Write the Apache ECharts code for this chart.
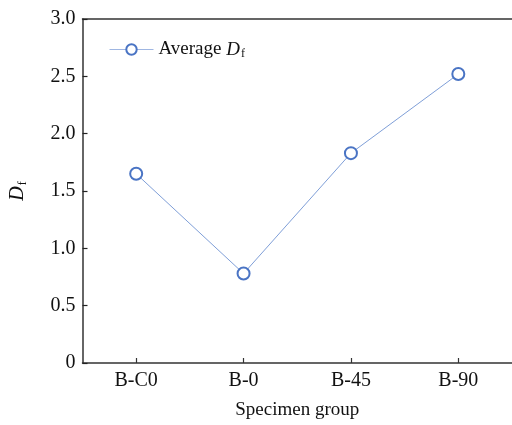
<!DOCTYPE html>
<html><head><meta charset="utf-8">
<script src="https://cdn.jsdelivr.net/npm/echarts@6/dist/echarts.min.js"></script>
<style>html,body{margin:0;padding:0;background:#fff}#c{width:512px;height:425px}</style>
</head><body><div id="c"></div>
<script>
const categories = ['B-C0', 'B-0', 'B-45', 'B-90'];
const averageDf = [1.65, 0.78, 1.83, 2.52];
const yTicks = [0, 0.5, 1.0, 1.5, 2.0, 2.5, 3.0];

const FONT = '"Liberation Serif", "Times New Roman", serif';
const chart = echarts.init(document.getElementById('c'));
chart.setOption({
  backgroundColor: '#fff',
  animation: false,
  grid: { left: 82, top: 19, width: 438, height: 347, show: false },
  legend: {
    left: 104, top: 35, itemWidth: 44, itemHeight: 13, itemGap: 9,
    data: ['Average Df'],
    lineStyle: { width: 1, color: '#9fb6e2' },
    formatter: () => 'Average {i|D}{s|f}',
    textStyle: {
      fontFamily: FONT, fontSize: 19, color: '#111',
      rich: {
        i: { fontFamily: FONT, fontSize: 19, fontStyle: 'italic', color: '#111' },
        s: { fontFamily: FONT, fontSize: 12, color: '#111', padding: [9, 0, 0, 1] }
      }
    }
  },
  xAxis: [{
    type: 'category', data: categories, boundaryGap: true, position: 'bottom',
    name: 'Specimen group', nameLocation: 'middle', nameGap: 38,
    nameTextStyle: { fontFamily: FONT, fontSize: 19, color: '#111' },
    axisLine: { show: true, lineStyle: { color: '#333', width: 1.5 } },
    axisTick: { show: true, inside: true, length: 5, alignWithLabel: true, lineStyle: { color: '#333', width: 1.2 } },
    axisLabel: { fontFamily: FONT, fontSize: 20, color: '#111', margin: 8 },
    splitLine: { show: false }
  }, {
    type: 'category', data: categories, boundaryGap: true, position: 'top',
    axisLine: { show: true, lineStyle: { color: '#333', width: 1.5 } },
    axisTick: { show: false }, axisLabel: { show: false }, splitLine: { show: false }
  }],
  yAxis: {
    type: 'value', min: 0, max: 3, interval: 0.5,
    name: '{i|D}{s|f}', nameLocation: 'middle', nameGap: 54, nameRotate: 90,
    nameTextStyle: {
      fontFamily: FONT, fontSize: 19, color: '#111',
      rich: {
        i: { fontFamily: FONT, fontSize: 20, fontStyle: 'italic', color: '#111' },
        s: { fontFamily: FONT, fontSize: 12, color: '#111', padding: [9, 0, 0, 1] }
      }
    },
    axisLine: { show: true, lineStyle: { color: '#333', width: 1.5 } },
    axisTick: { show: true, inside: true, length: 5, lineStyle: { color: '#222', width: 1.2 } },
    axisLabel: { fontFamily: FONT, fontSize: 20, color: '#111', margin: 7,
      formatter: v => (v === 0 ? '0' : v.toFixed(1)) },
    splitLine: { show: false }
  },
  series: [{
    name: 'Average Df', type: 'line', data: averageDf, xAxisIndex: 0,
    symbol: 'emptyCircle', symbolSize: 12,
    lineStyle: { color: '#7f9fd8', width: 1 },
    itemStyle: { color: '#4a74c4', borderColor: '#4a74c4', borderWidth: 1.1 }
  }]
});
</script></body></html>
